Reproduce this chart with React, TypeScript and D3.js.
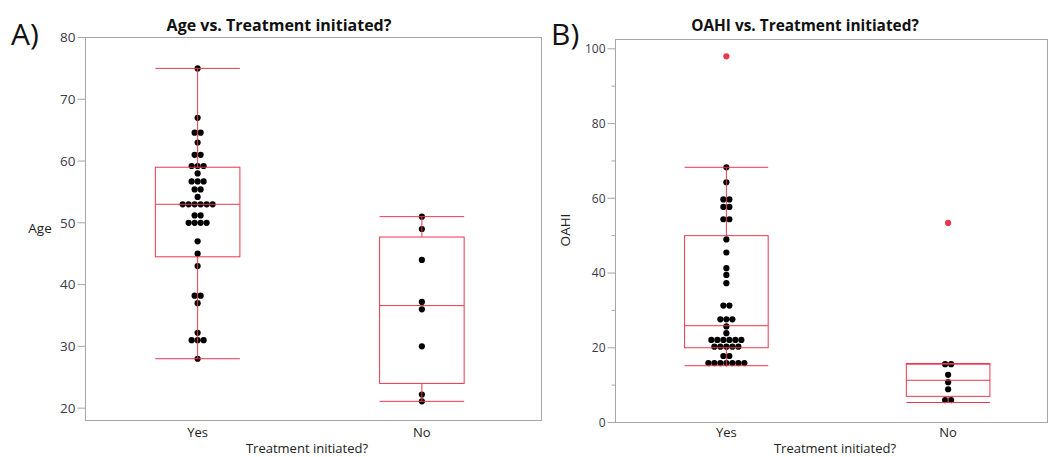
import React from 'react';
import * as d3 from 'd3';

// ---------- DATA ----------
const categories = ['Yes', 'No'];

// Panel A: Age
const ageYes = [75, 67, 64.6, 64.6, 63, 61, 61, 59.2, 59.2, 59.2, 58, 56.7, 56.7, 56.7, 55.4, 55.4, 54.2,
  53, 53, 53, 53, 53, 53, 51.2, 51.2, 50, 50, 50, 50, 47, 45, 43, 38.2, 38.2, 37, 32.2, 31, 31, 31, 28];
const ageNo = [51, 49, 44, 37.2, 36, 30, 22.2, 21.1];
const ageLowWhisker = [28, 21.1];
const ageQ1 = [44.5, 24];
const ageMedian = [53, 36.6];
const ageQ3 = [59, 47.7];
const ageHighWhisker = [75, 51];
const ageTicks = [20, 30, 40, 50, 60, 70, 80];

// Panel B: OAHI
const oahiYes = [68.3, 64.3, 59.7, 59.7, 57.7, 57.7, 54.4, 54.4, 49, 45.5, 41.3, 39.5, 37.3, 31.3, 31.3,
  27.6, 27.6, 27.6, 25.7, 23.9, 22.1, 22.1, 22.1, 22.1, 22.1, 22.1, 20.3, 20.3, 20.3, 20.3, 20.3,
  17.8, 17.8, 15.9, 15.9, 15.9, 15.9, 15.9, 15.9, 15.9];
const oahiNo = [15.6, 15.6, 12.75, 10.8, 8.9, 6.0, 6.0];
const oahiYesOutliers = [98];
const oahiNoOutliers = [53.4];
const oahiLowWhisker = [15.2, 5.35];
const oahiQ1 = [20, 7.0];
const oahiMedian = [25.9, 11.3];
const oahiQ3 = [50, 15.8];
const oahiHighWhisker = [68.3, 15.6];
const oahiTicks = [0, 20, 40, 60, 80, 100];
const oahiMinorTicks = [10, 30, 50, 70, 90];

// ---------- STYLE ----------
const FONT = '"Open Sans", "Noto Sans", sans-serif';
const RED = '#e8384f';
const FRAME = '#a6a6a6';
const TICKTXT = '#3a3a4a';

function swarm(values: number[], spacing: number) {
  const groups = d3.group(values, (v) => Math.round(v * 100));
  const out: { v: number; dx: number }[] = [];
  groups.forEach((arr) => {
    const n = arr.length;
    arr.forEach((v, i) => out.push({ v, dx: (i - (n - 1) / 2) * spacing }));
  });
  return out;
}

type PanelProps = {
  frame: { left: number; top: number; right: number; bottom: number };
  xRangeEnd: number;
  yDomain: [number, number];
  ticks: number[];
  minorTicks?: number[];
  groups: number[][];
  outliers: number[][];
  low: number[]; q1: number[]; med: number[]; q3: number[]; high: number[];
  title: string; titleX: number; titleSize: number;
  yLabel: string; yLabelX: number; yLabelY: number; yLabelRotate: boolean;
  xLabelX: number;
  letter: string; letterX: number; letterY: number;
  tickLen: number; tickFont: number;
};

function Panel(p: PanelProps) {
  const { frame } = p;
  const x = d3.scalePoint<string>().domain(categories).range([frame.left, p.xRangeEnd]).padding(0.5);
  const y = d3.scaleLinear().domain(p.yDomain).range([frame.bottom, frame.top]);
  const boxW = x.step() * 0.377;
  return (
    <g>
      <text x={p.letterX} y={p.letterY} fontFamily={FONT} fontSize={30} fill="#111">{p.letter}</text>
      <text x={p.titleX} y={31} textAnchor="middle" fontFamily={FONT} fontSize={p.titleSize} fontWeight={700} fill="#111">{p.title}</text>
      <rect x={frame.left} y={frame.top} width={frame.right - frame.left} height={frame.bottom - frame.top}
        fill="none" stroke={FRAME} strokeWidth={1} />
      {p.ticks.map((t) => (
        <g key={t}>
          <line x1={frame.left - p.tickLen} x2={frame.left} y1={y(t)} y2={y(t)} stroke={FRAME} />
          <text x={frame.left - p.tickLen - 2} y={y(t)} dy="0.35em" textAnchor="end" fontFamily={FONT} fontSize={p.tickFont} fill={TICKTXT}>{t}</text>
        </g>
      ))}
      {(p.minorTicks || []).map((t) => (
        <line key={'m' + t} x1={frame.left - 4} x2={frame.left} y1={y(t)} y2={y(t)} stroke={FRAME} />
      ))}
      {p.yLabelRotate ? (
        <text transform={`translate(${p.yLabelX},${p.yLabelY}) rotate(-90)`} textAnchor="middle" dy="0.35em"
          fontFamily={FONT} fontSize={13.5} fill="#222">{p.yLabel}</text>
      ) : (
        <text x={p.yLabelX} y={p.yLabelY} dy="0.35em" textAnchor="middle" fontFamily={FONT} fontSize={13.5} fill="#222">{p.yLabel}</text>
      )}
      {categories.map((c) => (
        <text key={c} x={x(c)} y={437} textAnchor="middle" fontFamily={FONT} fontSize={13} fill="#222">{c}</text>
      ))}
      <text x={p.xLabelX} y={453} textAnchor="middle" fontFamily={FONT} fontSize={13} fill="#222">Treatment initiated?</text>
      {categories.map((c, i) => (
        <g key={'pts' + c}>
          {swarm(p.groups[i], 6).map((d, j) => (
            <circle key={j} cx={(x(c) as number) + d.dx} cy={y(d.v)} r={3.1} fill="#000" />
          ))}
          {p.outliers[i].map((v, j) => (
            <circle key={'o' + j} cx={x(c)} cy={y(v)} r={3.1} fill={RED} />
          ))}
        </g>
      ))}
      {categories.map((c, i) => {
        const cx = x(c) as number;
        const l = cx - boxW / 2;
        return (
          <g key={'box' + c} stroke={RED} strokeWidth={1} fill="none">
            <rect x={l} y={y(p.q3[i])} width={boxW} height={y(p.q1[i]) - y(p.q3[i])} />
            <line x1={l} x2={l + boxW} y1={y(p.med[i])} y2={y(p.med[i])} />
            <line x1={cx} x2={cx} y1={y(p.q3[i])} y2={y(p.high[i])} />
            <line x1={cx} x2={cx} y1={y(p.q1[i])} y2={y(p.low[i])} />
            <line x1={l} x2={l + boxW} y1={y(p.high[i])} y2={y(p.high[i])} />
            <line x1={l} x2={l + boxW} y1={y(p.low[i])} y2={y(p.low[i])} />
          </g>
        );
      })}
    </g>
  );
}

export default function App() {
  return (
    <svg width={1049} height={457} style={{ position: 'absolute', left: 0, top: 0, background: '#fff' }}>
      <rect width={1049} height={457} fill="#fff" />
      <Panel
        frame={{ left: 85.5, top: 37.5, right: 541.5, bottom: 420.5 }}
        xRangeEnd={534}
        yDomain={[18, 80]}
        ticks={ageTicks}
        groups={[ageYes, ageNo]}
        outliers={[[], []]}
        low={ageLowWhisker} q1={ageQ1} med={ageMedian} q3={ageQ3} high={ageHighWhisker}
        title="Age vs. Treatment initiated?" titleX={279} titleSize={16}
        yLabel="Age" yLabelX={40} yLabelY={228} yLabelRotate={false}
        xLabelX={307}
        letter="A)" letterX={11} letterY={45}
        tickLen={8} tickFont={13.5}
      />
      <Panel
        frame={{ left: 615.5, top: 39.5, right: 1047.5, bottom: 422.5 }}
        xRangeEnd={1059}
        yDomain={[0, 102.5]}
        ticks={oahiTicks}
        minorTicks={oahiMinorTicks}
        groups={[oahiYes, oahiNo]}
        outliers={[oahiYesOutliers, oahiNoOutliers]}
        low={oahiLowWhisker} q1={oahiQ1} med={oahiMedian} q3={oahiQ3} high={oahiHighWhisker}
        title="OAHI vs. Treatment initiated?" titleX={805} titleSize={15.4}
        yLabel="OAHI" yLabelX={565} yLabelY={230} yLabelRotate={true}
        xLabelX={835}
        letter="B)" letterX={551} letterY={45}
        tickLen={8} tickFont={12}
      />
    </svg>
  );
}
